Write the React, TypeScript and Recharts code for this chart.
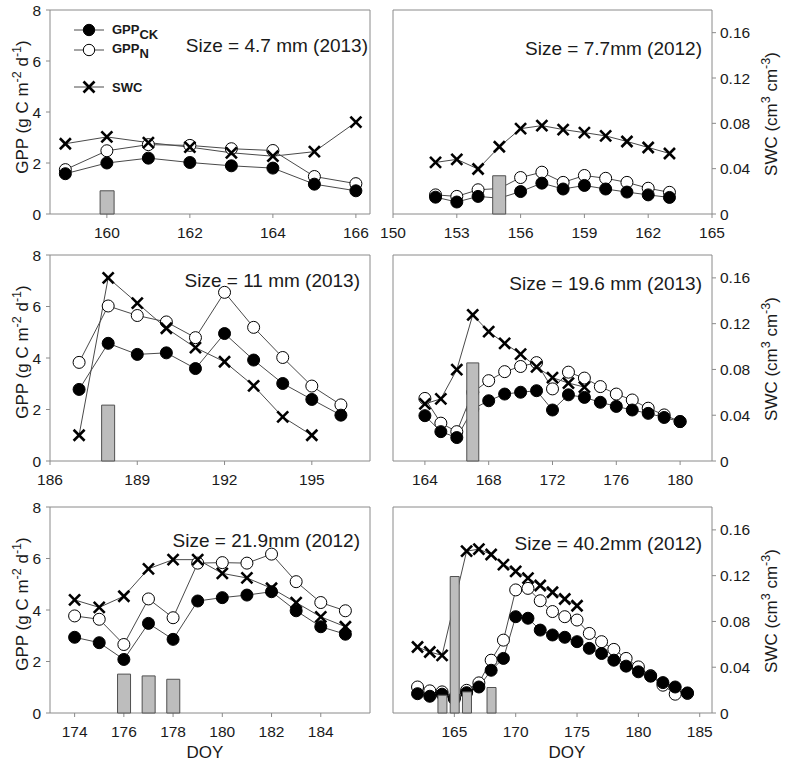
import React from 'react';
import { ComposedChart, Line, Bar, XAxis, YAxis, ReferenceArea } from 'recharts';

const FONT = '"Liberation Sans", Arial, Helvetica, sans-serif';

// ---------- Panel 1: Size = 4.7 mm (2013)
const doy1 = [159, 160, 161, 162, 163, 164, 165, 166];
const ck1 = [1.58, 2.0, 2.19, 2.02, 1.89, 1.8, 1.17, 0.91];
const n1 = [1.74, 2.48, 2.72, 2.69, 2.56, 2.49, 1.47, 1.19];
const swcDoy1 = [159, 160, 161, 162, 163, 164, 165, 166];
const swc1 = [0.062, 0.068, 0.063, 0.059, 0.054, 0.051, 0.055, 0.081];
const rainDoy1 = [160];
const rain1 = [0.91];
const ticks1 = [160, 162, 164, 166];

// ---------- Panel 2: Size = 7.7mm (2012)
const doy2 = [152, 153, 154, 155, 156, 157, 158, 159, 160, 161, 162, 163];
const ck2 = [0.66, 0.47, 0.69, 0.62, 0.88, 1.21, 0.98, 1.12, 0.98, 0.86, 0.75, 0.65];
const n2 = [0.75, 0.69, 0.95, 1.0, 1.43, 1.64, 1.24, 1.51, 1.4, 1.24, 1.01, 0.85];
const swcDoy2 = [152, 153, 154, 155, 156, 157, 158, 159, 160, 161, 162, 163];
const swc2 = [0.0455, 0.0482, 0.0397, 0.0593, 0.0753, 0.078, 0.0745, 0.0718, 0.0689, 0.064, 0.0587, 0.0534];
const rainDoy2 = [155];
const rain2 = [1.5];
const ticks2 = [150, 153, 156, 159, 162, 165];

// ---------- Panel 3: Size = 11 mm (2013)
const doy3 = [187, 188, 189, 190, 191, 192, 193, 194, 195, 196];
const ck3 = [2.78, 4.57, 4.14, 4.2, 3.59, 4.95, 3.92, 3.01, 2.39, 1.78];
const n3 = [3.83, 6.02, 5.65, 5.4, 4.79, 6.55, 5.19, 4.02, 2.91, 2.18];
const swcDoy3 = [187, 188, 189, 190, 191, 192, 193, 194, 195];
const swc3 = [0.0225, 0.16, 0.138, 0.116, 0.099, 0.0867, 0.0657, 0.0385, 0.0225];
const rainDoy3 = [188];
const rain3 = [2.17];
const ticks3 = [186, 189, 192, 195];

// ---------- Panel 4: Size = 19.6 mm (2013)
const doy4 = [164, 165, 166, 167, 168, 169, 170, 171, 172, 173, 174, 175, 176, 177, 178, 179, 180];
const ck4 = [1.76, 1.14, 0.91, 2.02, 2.34, 2.6, 2.67, 2.73, 1.98, 2.57, 2.47, 2.28, 2.12, 1.98, 1.85, 1.69, 1.53];
const n4 = [2.43, 1.47, 1.14, 2.67, 3.12, 3.47, 3.67, 3.82, 2.8, 3.45, 3.22, 2.89, 2.6, 2.37, 2.05, 1.79, 1.53];
const swcDoy4 = [164, 165, 166, 167, 168, 169, 170, 171, 172, 173, 174];
const swc4 = [0.0499, 0.0543, 0.0798, 0.1277, 0.113, 0.1028, 0.0934, 0.0822, 0.0728, 0.0681, 0.0646];
const rainDoy4 = [167];
const rain4 = [3.81];
const ticks4 = [164, 168, 172, 176, 180];

// ---------- Panel 5: Size = 21.9mm (2012)
const doy5 = [174, 175, 176, 177, 178, 179, 180, 181, 182, 183, 184, 185];
const ck5 = [2.94, 2.73, 2.08, 3.48, 2.86, 4.35, 4.48, 4.58, 4.71, 3.97, 3.35, 3.06];
const n5 = [3.77, 3.64, 2.66, 4.43, 3.7, 5.82, 5.84, 5.82, 6.17, 5.1, 4.29, 3.97];
const swcDoy5 = [174, 175, 176, 177, 178, 179, 180, 181, 182, 183, 184, 185];
const swc5 = [0.0988, 0.0923, 0.102, 0.126, 0.134, 0.134, 0.122, 0.118, 0.109, 0.0965, 0.084, 0.0754];
const rainDoy5 = [176, 177, 178];
const rain5 = [1.51, 1.44, 1.31];
const ticks5 = [174, 176, 178, 180, 182, 184];

// ---------- Panel 6: Size = 40.2mm (2012)
const doy6 = [162, 163, 164, 165, 166, 167, 168, 169, 170, 171, 172, 173, 174, 175, 176, 177, 178, 179, 180, 181, 182, 183, 184];
const ck6 = [0.75, 0.65, 0.73, 0.55, 0.79, 1.01, 1.66, 2.12, 3.74, 3.68, 3.22, 3.03, 2.94, 2.77, 2.51, 2.31, 2.05, 1.82, 1.6, 1.43, 1.18, 1.01, 0.78];
const n6 = [1.01, 0.86, 0.82, 0.6, 0.88, 1.17, 2.05, 2.83, 4.78, 4.84, 4.36, 3.94, 3.74, 3.61, 3.09, 2.77, 2.47, 2.12, 1.79, 1.45, 1.08, 0.73, 0.76];
const swcDoy6 = [162, 163, 164, 166, 167, 168, 169, 170, 171, 172, 173, 174, 175];
const swc6 = [0.0577, 0.0533, 0.0504, 0.1414, 0.1432, 0.1385, 0.1297, 0.1238, 0.1179, 0.1114, 0.1055, 0.0996, 0.0937];
const rainDoy6 = [164, 165, 166, 168];
const rain6 = [0.69, 5.3, 0.82, 0.99];
const ticks6 = [165, 170, 175, 180, 185];

const gppTicks = [0, 2, 4, 6, 8];
const swcTicks = [0, 0.04, 0.08, 0.12, 0.16];
const swcTickLabels = ['0', '0.04', '0.08', '0.12', '0.16'];

type Row = { doy: number; ck?: number; n?: number; swc?: number; rain?: number };

function buildRows(doy: number[], ck: number[], n: number[], swcDoy: number[], swc: number[], rainDoy: number[], rain: number[]): Row[] {
  const map = new Map<number, Row>();
  const get = (d: number) => {
    if (!map.has(d)) map.set(d, { doy: d });
    return map.get(d)!;
  };
  doy.forEach((d, i) => { const r = get(d); r.ck = ck[i]; r.n = n[i]; });
  swcDoy.forEach((d, i) => { get(d).swc = swc[i]; });
  rainDoy.forEach((d, i) => { get(d).rain = rain[i]; });
  return Array.from(map.values()).sort((a, b) => a.doy - b.doy);
}

const LINE = '#4a4a4a';
const AXIS = '#8a8a8a';

const FilledDot = (p: any) => {
  if (p.cx == null || p.cy == null || p.value == null) return <g key={`f-${p.index}`} />;
  return <circle key={`f-${p.index}`} cx={p.cx} cy={p.cy} r={6} fill="#000" stroke="#000" strokeWidth={1} />;
};
const OpenDot = (p: any) => {
  if (p.cx == null || p.cy == null || p.value == null) return <g key={`o-${p.index}`} />;
  return <circle key={`o-${p.index}`} cx={p.cx} cy={p.cy} r={6} fill="#fff" stroke="#000" strokeWidth={1} />;
};
const CrossDot = (p: any) => {
  if (p.cx == null || p.cy == null || p.value == null) return <g key={`x-${p.index}`} />;
  const s = 5.5;
  return (
    <g key={`x-${p.index}`}>
      <line x1={p.cx - s} y1={p.cy - s} x2={p.cx + s} y2={p.cy + s} stroke="#000" strokeWidth={2.6} />
      <line x1={p.cx - s} y1={p.cy + s} x2={p.cx + s} y2={p.cy - s} stroke="#000" strokeWidth={2.6} />
    </g>
  );
};

type PanelCfg = {
  rows: Row[];
  domain: [number, number];
  ticks: number[];
  side: 'left' | 'right';
  top: number;
  h: number;
  barSize: number;
  label: string;
  labelRight: number;
  labelBase: number;
};

const panels: PanelCfg[] = [
  { rows: buildRows(doy1, ck1, n1, swcDoy1, swc1, rainDoy1, rain1), domain: [158.63, 166.34], ticks: ticks1, side: 'left', top: 10, h: 204, barSize: 14, label: 'Size = 4.7 mm (2013)', labelRight: 368, labelBase: 52 },
  { rows: buildRows(doy2, ck2, n2, swcDoy2, swc2, rainDoy2, rain2), domain: [150, 165], ticks: ticks2, side: 'right', top: 10, h: 204, barSize: 13, label: 'Size = 7.7mm (2012)', labelRight: 702, labelBase: 55 },
  { rows: buildRows(doy3, ck3, n3, swcDoy3, swc3, rainDoy3, rain3), domain: [186, 197], ticks: ticks3, side: 'left', top: 255, h: 206, barSize: 13, label: 'Size = 11 mm (2013)', labelRight: 360, labelBase: 287 },
  { rows: buildRows(doy4, ck4, n4, swcDoy4, swc4, rainDoy4, rain4), domain: [162, 182], ticks: ticks4, side: 'right', top: 255, h: 206, barSize: 12, label: 'Size = 19.6 mm (2013)', labelRight: 702, labelBase: 290 },
  { rows: buildRows(doy5, ck5, n5, swcDoy5, swc5, rainDoy5, rain5), domain: [173, 186], ticks: ticks5, side: 'left', top: 507, h: 206, barSize: 13, label: 'Size = 21.9mm (2012)', labelRight: 360, labelBase: 547 },
  { rows: buildRows(doy6, ck6, n6, swcDoy6, swc6, rainDoy6, rain6), domain: [160, 186], ticks: ticks6, side: 'right', top: 507, h: 206, barSize: 9, label: 'Size = 40.2mm (2012)', labelRight: 702, labelBase: 550 },
];

const tickStyle = { fontSize: 15.5, fill: '#1a1a1a', fontFamily: FONT };
const TOPM = 15;

function Axes({ cfg, show }: { cfg: PanelCfg; show: boolean }) {
  const isLeft = cfg.side === 'left';
  return [
    <XAxis
      key="x"
      type="number"
      dataKey="doy"
      domain={cfg.domain}
      ticks={cfg.ticks}
      interval={0}
      height={40}
      axisLine={false}
      tickLine={show ? { stroke: AXIS } : false}
      tickSize={4}
      tickMargin={9}
      tick={show ? tickStyle : false}
    />,
    <YAxis
      key="y1"
      yAxisId="gpp"
      domain={[0, 8]}
      ticks={gppTicks}
      interval={0}
      hide={!isLeft}
      width={50}
      axisLine={false}
      tickLine={show ? { stroke: AXIS } : false}
      tickSize={4}
      tickMargin={5}
      tick={show ? tickStyle : false}
    />,
    <YAxis
      key="y2"
      yAxisId="swc"
      orientation="right"
      domain={[0, 0.18]}
      ticks={swcTicks}
      interval={0}
      hide={isLeft}
      width={70}
      axisLine={false}
      tickLine={show ? { stroke: AXIS } : false}
      tickSize={4}
      tickMargin={4}
      tick={show ? tickStyle : false}
      tickFormatter={(v: number) => swcTickLabels[swcTicks.indexOf(v)] ?? String(v)}
    />,
  ];
}

function Panel({ cfg }: { cfg: PanelCfg }) {
  const isLeft = cfg.side === 'left';
  const width = isLeft ? 380 : 414;
  const margin = isLeft ? { top: TOPM, right: 10, bottom: 0, left: 0 } : { top: TOPM, right: 5, bottom: 0, left: 20 };
  const height = TOPM + cfg.h + 40;
  const boxStyle: React.CSSProperties = { position: 'absolute', left: 0, top: 0 };
  return (
    <div style={{ position: 'absolute', left: isLeft ? 0 : 373, top: cfg.top - TOPM, width, height }}>
      <div style={boxStyle}>
        <ComposedChart width={width} height={height} data={cfg.rows} margin={margin}>
          {Axes({ cfg, show: true })}
          <ReferenceArea yAxisId="gpp" x1={cfg.domain[0]} x2={cfg.domain[1]} y1={0} y2={8} fill="none" stroke={AXIS} strokeWidth={1} />
          <Line yAxisId="gpp" dataKey="n" stroke={LINE} strokeWidth={1} dot={OpenDot} activeDot={false} connectNulls isAnimationActive={false} />
          <Line yAxisId="gpp" dataKey="ck" stroke={LINE} strokeWidth={1} dot={FilledDot} activeDot={false} connectNulls isAnimationActive={false} />
          <Line yAxisId="swc" dataKey="swc" stroke={LINE} strokeWidth={1} dot={CrossDot} activeDot={false} connectNulls isAnimationActive={false} />
        </ComposedChart>
      </div>
      <div style={boxStyle}>
        <ComposedChart width={width} height={height} data={cfg.rows} margin={margin}>
          {Axes({ cfg, show: false })}
          <Bar yAxisId="gpp" dataKey="rain" barSize={cfg.barSize} fill="#bdbdbd" stroke="#505050" strokeWidth={1} isAnimationActive={false} />
        </ComposedChart>
      </div>
    </div>
  );
}

function YLabelLeft({ cy }: { cy: number }) {
  return (
    <g transform={`translate(22, ${cy}) rotate(-90)`}>
      <text x={0} y={6} textAnchor="middle" fontSize={17} fill="#1a1a1a" fontFamily={FONT}>
        GPP (g C m<tspan dy={-7} fontSize={12.5}>-2</tspan><tspan dy={7}> d</tspan><tspan dy={-7} fontSize={12.5}>-1</tspan><tspan dy={7}>)</tspan>
      </text>
    </g>
  );
}
function YLabelRight({ cy }: { cy: number }) {
  return (
    <g transform={`translate(771, ${cy}) rotate(-90)`}>
      <text x={0} y={6} textAnchor="middle" fontSize={17} fill="#1a1a1a" fontFamily={FONT}>
        SWC (cm<tspan dy={-7} fontSize={12.5}>3</tspan><tspan dy={7}> cm</tspan><tspan dy={-7} fontSize={12.5}>-3</tspan><tspan dy={7}>)</tspan>
      </text>
    </g>
  );
}

function Overlay() {
  const rowsTop = [10, 255, 507];
  const s = 5.5;
  return (
    <svg width={787} height={766} style={{ position: 'absolute', left: 0, top: 0, pointerEvents: 'none' }}>
      {rowsTop.map((t) => <YLabelLeft key={`l${t}`} cy={t + 97} />)}
      {rowsTop.map((t) => <YLabelRight key={`r${t}`} cy={t + 104} />)}
      {panels.map((p, i) => (
        <text key={`s${i}`} x={p.labelRight} y={p.labelBase} textAnchor="end" fontSize={19} fill="#1a1a1a" fontFamily={FONT}>{p.label}</text>
      ))}
      <text x={205} y={758} textAnchor="middle" fontSize={17} fill="#1a1a1a" fontFamily={FONT}>DOY</text>
      <text x={567} y={758} textAnchor="middle" fontSize={17} fill="#1a1a1a" fontFamily={FONT}>DOY</text>
      <g fontFamily={FONT} fontWeight="bold" fontSize={13} fill="#1a1a1a">
        <line x1={74} y1={30} x2={104} y2={30} stroke={LINE} strokeWidth={1} />
        <circle cx={89} cy={30} r={5.7} fill="#000" stroke="#000" />
        <text x={112} y={34}>GPP<tspan dy={4.5}>CK</tspan></text>
        <line x1={74} y1={50} x2={104} y2={50} stroke={LINE} strokeWidth={1} />
        <circle cx={89} cy={50} r={5.7} fill="#fff" stroke="#000" />
        <text x={112} y={53}>GPP<tspan dy={4.5}>N</tspan></text>
        <line x1={74} y1={87} x2={104} y2={87} stroke={LINE} strokeWidth={1} />
        <line x1={89 - s} y1={87 - s} x2={89 + s} y2={87 + s} stroke="#000" strokeWidth={2.6} />
        <line x1={89 - s} y1={87 + s} x2={89 + s} y2={87 - s} stroke="#000" strokeWidth={2.6} />
        <text x={112} y={91.5}>SWC</text>
      </g>
    </svg>
  );
}

export default function App() {
  return (
    <div style={{ position: 'absolute', left: 0, top: 0, width: 787, height: 766, background: '#fff', fontFamily: FONT }}>
      {panels.map((p, i) => <Panel key={i} cfg={p} />)}
      <Overlay />
    </div>
  );
}
